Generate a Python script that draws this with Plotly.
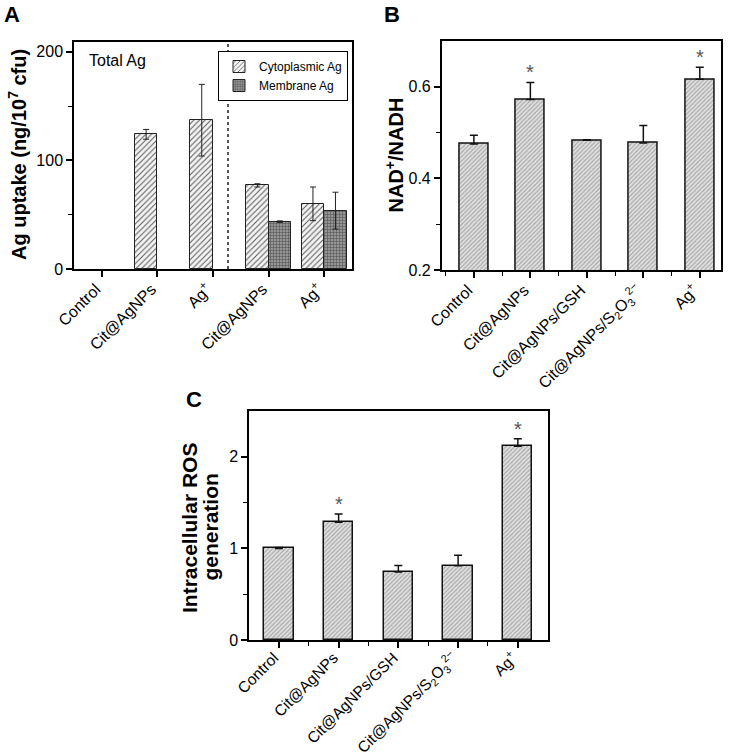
import plotly.graph_objects as go

# ---------------- data ----------------
# Panel A
catsA = ["Control", "Cit@AgNPs", "Ag<sup>+</sup>", "Cit@AgNPs", "Ag<sup>+</sup>"]
total_x = [1, 2]
total_vals = [124, 137]
total_err = [4.5, 33]
cyto_x = [3, 4]
cyto_vals = [77, 60]
cyto_err = [1.5, 15.5]
memb_x = [3, 4]
memb_vals = [43.6, 53.7]
memb_err = [0.7, 17]
separator_x = 2.27

# Panel B
catsBC = ["Control", "Cit@AgNPs", "Cit@AgNPs/GSH",
          "Cit@AgNPs/S<sub>2</sub>O<sub>3</sub><sup>2−</sup>", "Ag<sup>+</sup>"]
nad_vals = [0.475, 0.572, 0.483, 0.477, 0.616]
nad_err = [0.019, 0.037, 0.001, 0.038, 0.026]
nad_sig = [False, True, False, False, True]

# Panel C
ros_vals = [1.0, 1.286, 0.742, 0.81, 2.116]
ros_err = [0.01, 0.09, 0.07, 0.115, 0.08]
ros_sig = [False, True, False, False, True]

FONT = "Arial, Liberation Sans, sans-serif"
W, H = 730, 754


def dom_x(a, b):
    return [a / W, b / W]


def dom_y(top, bottom):
    return [1 - bottom / H, 1 - top / H]


fig = go.Figure()

hatchA = dict(shape="/", fgcolor="#5a5a5a", bgcolor="#f4f4f4", size=4, solidity=0.25)
gridA = dict(shape="+", fgcolor="#555555", bgcolor="#959595", size=3, solidity=0.35)
hatchBC = dict(shape="/", fgcolor="#a4a4a4", bgcolor="#e0e0e0", size=3, solidity=0.35)

errA = lambda e: dict(type="data", array=e, color="#222", thickness=1, width=3)

fig.add_trace(go.Bar(x=total_x, y=total_vals, width=0.405, offset=-0.405,
                     marker=dict(pattern=hatchA, line=dict(color="#222", width=1)),
                     error_y=errA(total_err), showlegend=False,
                     xaxis="x", yaxis="y"))
fig.add_trace(go.Bar(x=cyto_x, y=cyto_vals, width=0.405, offset=-0.405, name="Cytoplasmic Ag",
                     marker=dict(pattern=hatchA, line=dict(color="#222", width=1)),
                     error_y=errA(cyto_err), xaxis="x", yaxis="y"))
fig.add_trace(go.Bar(x=memb_x, y=memb_vals, width=0.405, offset=0, name="Membrane Ag",
                     marker=dict(pattern=gridA, line=dict(color="#222", width=1)),
                     error_y=errA(memb_err), xaxis="x", yaxis="y"))

errUp = lambda e: dict(type="data", symmetric=False, array=e, arrayminus=[0] * len(e),
                       color="#111", thickness=1.5, width=4)

fig.add_trace(go.Bar(x=list(range(5)), y=nad_vals, width=0.51,
                     marker=dict(pattern=hatchBC, line=dict(color="#111", width=1.5)),
                     error_y=errUp(nad_err), showlegend=False, xaxis="x2", yaxis="y2"))
fig.add_trace(go.Bar(x=list(range(5)), y=ros_vals, width=0.49,
                     marker=dict(pattern=hatchBC, line=dict(color="#111", width=1.5)),
                     error_y=errUp(ros_err), showlegend=False, xaxis="x3", yaxis="y3"))

tickfont = dict(family=FONT, size=16, color="black")
axis_common = dict(showline=True, mirror=True, linecolor="black", linewidth=1.5,
                   ticks="outside", ticklen=6, tickwidth=1.5, tickcolor="black",
                   showgrid=False, zeroline=False, automargin=False)
minor_common = dict(ticks="outside", ticklen=4, tickwidth=1.2, tickcolor="black", showgrid=False)
xlab = dict(tickangle=-45, ticklabelshift=-6, ticklabelstandoff=-3)

fig.update_layout(
    template="none",
    width=W, height=H, margin=dict(l=0, r=0, t=0, b=0, autoexpand=False),
    plot_bgcolor="white", paper_bgcolor="white",
    font=dict(family=FONT, color="black"),
    barmode="overlay",
    bargap=0,
    xaxis=dict(domain=dom_x(74, 352), range=[-0.5, 4.5], tickvals=list(range(5)),
               ticktext=catsA, anchor="y", tickfont=tickfont, **xlab, **axis_common),
    yaxis=dict(domain=dom_y(42, 269), range=[0, 209], tickvals=[0, 100, 200],
               minor=dict(tickvals=[50, 150], **minor_common), tickfont=tickfont,
               anchor="x", **axis_common),
    xaxis2=dict(domain=dom_x(441.7, 720.7), range=[-0.57, 4.37], tickvals=list(range(5)),
                ticktext=catsBC, anchor="y2", tickfont=tickfont, **xlab,
                minor=dict(tickvals=[-0.5, 0.5, 1.5, 2.5, 3.5], **minor_common),
                **axis_common),
    yaxis2=dict(domain=dom_y(40.7, 270), range=[0.2, 0.7], tickvals=[0.2, 0.4, 0.6],
                ticktext=["0.2", "0.4", "0.6"], tickfont=tickfont,
                minor=dict(tickvals=[0.3, 0.5], **minor_common),
                anchor="x2", **axis_common),
    xaxis3=dict(domain=dom_x(249, 547.7), range=[-0.5, 4.5], tickvals=list(range(5)),
                ticktext=catsBC, anchor="y3", tickangle=-45, ticklabelshift=-5,
                ticklabelstandoff=-5, tickfont=dict(family=FONT, size=15.5, color="black"),
                minor=dict(tickvals=[0.5, 1.5, 2.5, 3.5], **minor_common),
                **axis_common),
    yaxis3=dict(domain=dom_y(411, 640), range=[0, 2.5], tickvals=[0, 1, 2], tickfont=tickfont,
                minor=dict(tickvals=[0.5, 1.5], **minor_common),
                anchor="x3", **axis_common),
    legend=dict(x=348 / W, y=1 - 51 / H, xanchor="right", yanchor="top",
                bgcolor="white", bordercolor="black", borderwidth=1,
                font=dict(family=FONT, size=12), tracegroupgap=0, itemwidth=30),
)

# dotted separator in panel A
fig.add_shape(type="line", xref="x", yref="y domain", x0=separator_x, x1=separator_x,
              y0=0, y1=1, line=dict(color="#555", width=2, dash="dot"))

# "Total Ag" label
fig.add_annotation(text="Total Ag", xref="x domain", yref="y domain", x=0.045, y=0.92,
                   xanchor="left", yanchor="middle", showarrow=False,
                   font=dict(family=FONT, size=16, color="black"))

# y-axis titles (rotated annotations)
ytitles = [("<b>Ag uptake (ng/10<sup>7</sup> cfu)</b>", 17, 155, 20),
           ("<b>NAD<sup>+</sup>/NADH</b>", 394, 155.5, 20),
           ("<b>Intracellular ROS</b>", 189, 528, 21),
           ("<b>generation</b>", 210, 527.5, 21)]
for txt, px, py, sz in ytitles:
    fig.add_annotation(text=txt, xref="paper", yref="paper", x=px / W, y=1 - py / H,
                       xanchor="center", yanchor="middle", textangle=-90, showarrow=False,
                       font=dict(family=FONT, size=sz, color="black"))

# significance asterisks
for xa, ya, vals, errs, sigs in [("x2", "y2", nad_vals, nad_err, nad_sig),
                                 ("x3", "y3", ros_vals, ros_err, ros_sig)]:
    for i, (v, e, s) in enumerate(zip(vals, errs, sigs)):
        if s:
            fig.add_annotation(x=i, y=v + e, xref=xa, yref=ya, text="*", showarrow=False,
                               yanchor="middle", yshift=10,
                               font=dict(family=FONT, size=20, color="#555"))

# panel letters
for letter, px, py in [("A", 2, 0), ("B", 382, 0), ("C", 184, 385)]:
    fig.add_annotation(text="<b>%s</b>" % letter, xref="paper", yref="paper",
                       x=px / W, y=1 - py / H, xanchor="left", yanchor="top", showarrow=False,
                       font=dict(family=FONT, size=22, color="black"))

fig.write_html("out.html", config={"displayModeBar": False},
               post_script="document.body.style.margin='0';document.body.style.padding='0';"
                           "document.documentElement.style.overflow='hidden';")
